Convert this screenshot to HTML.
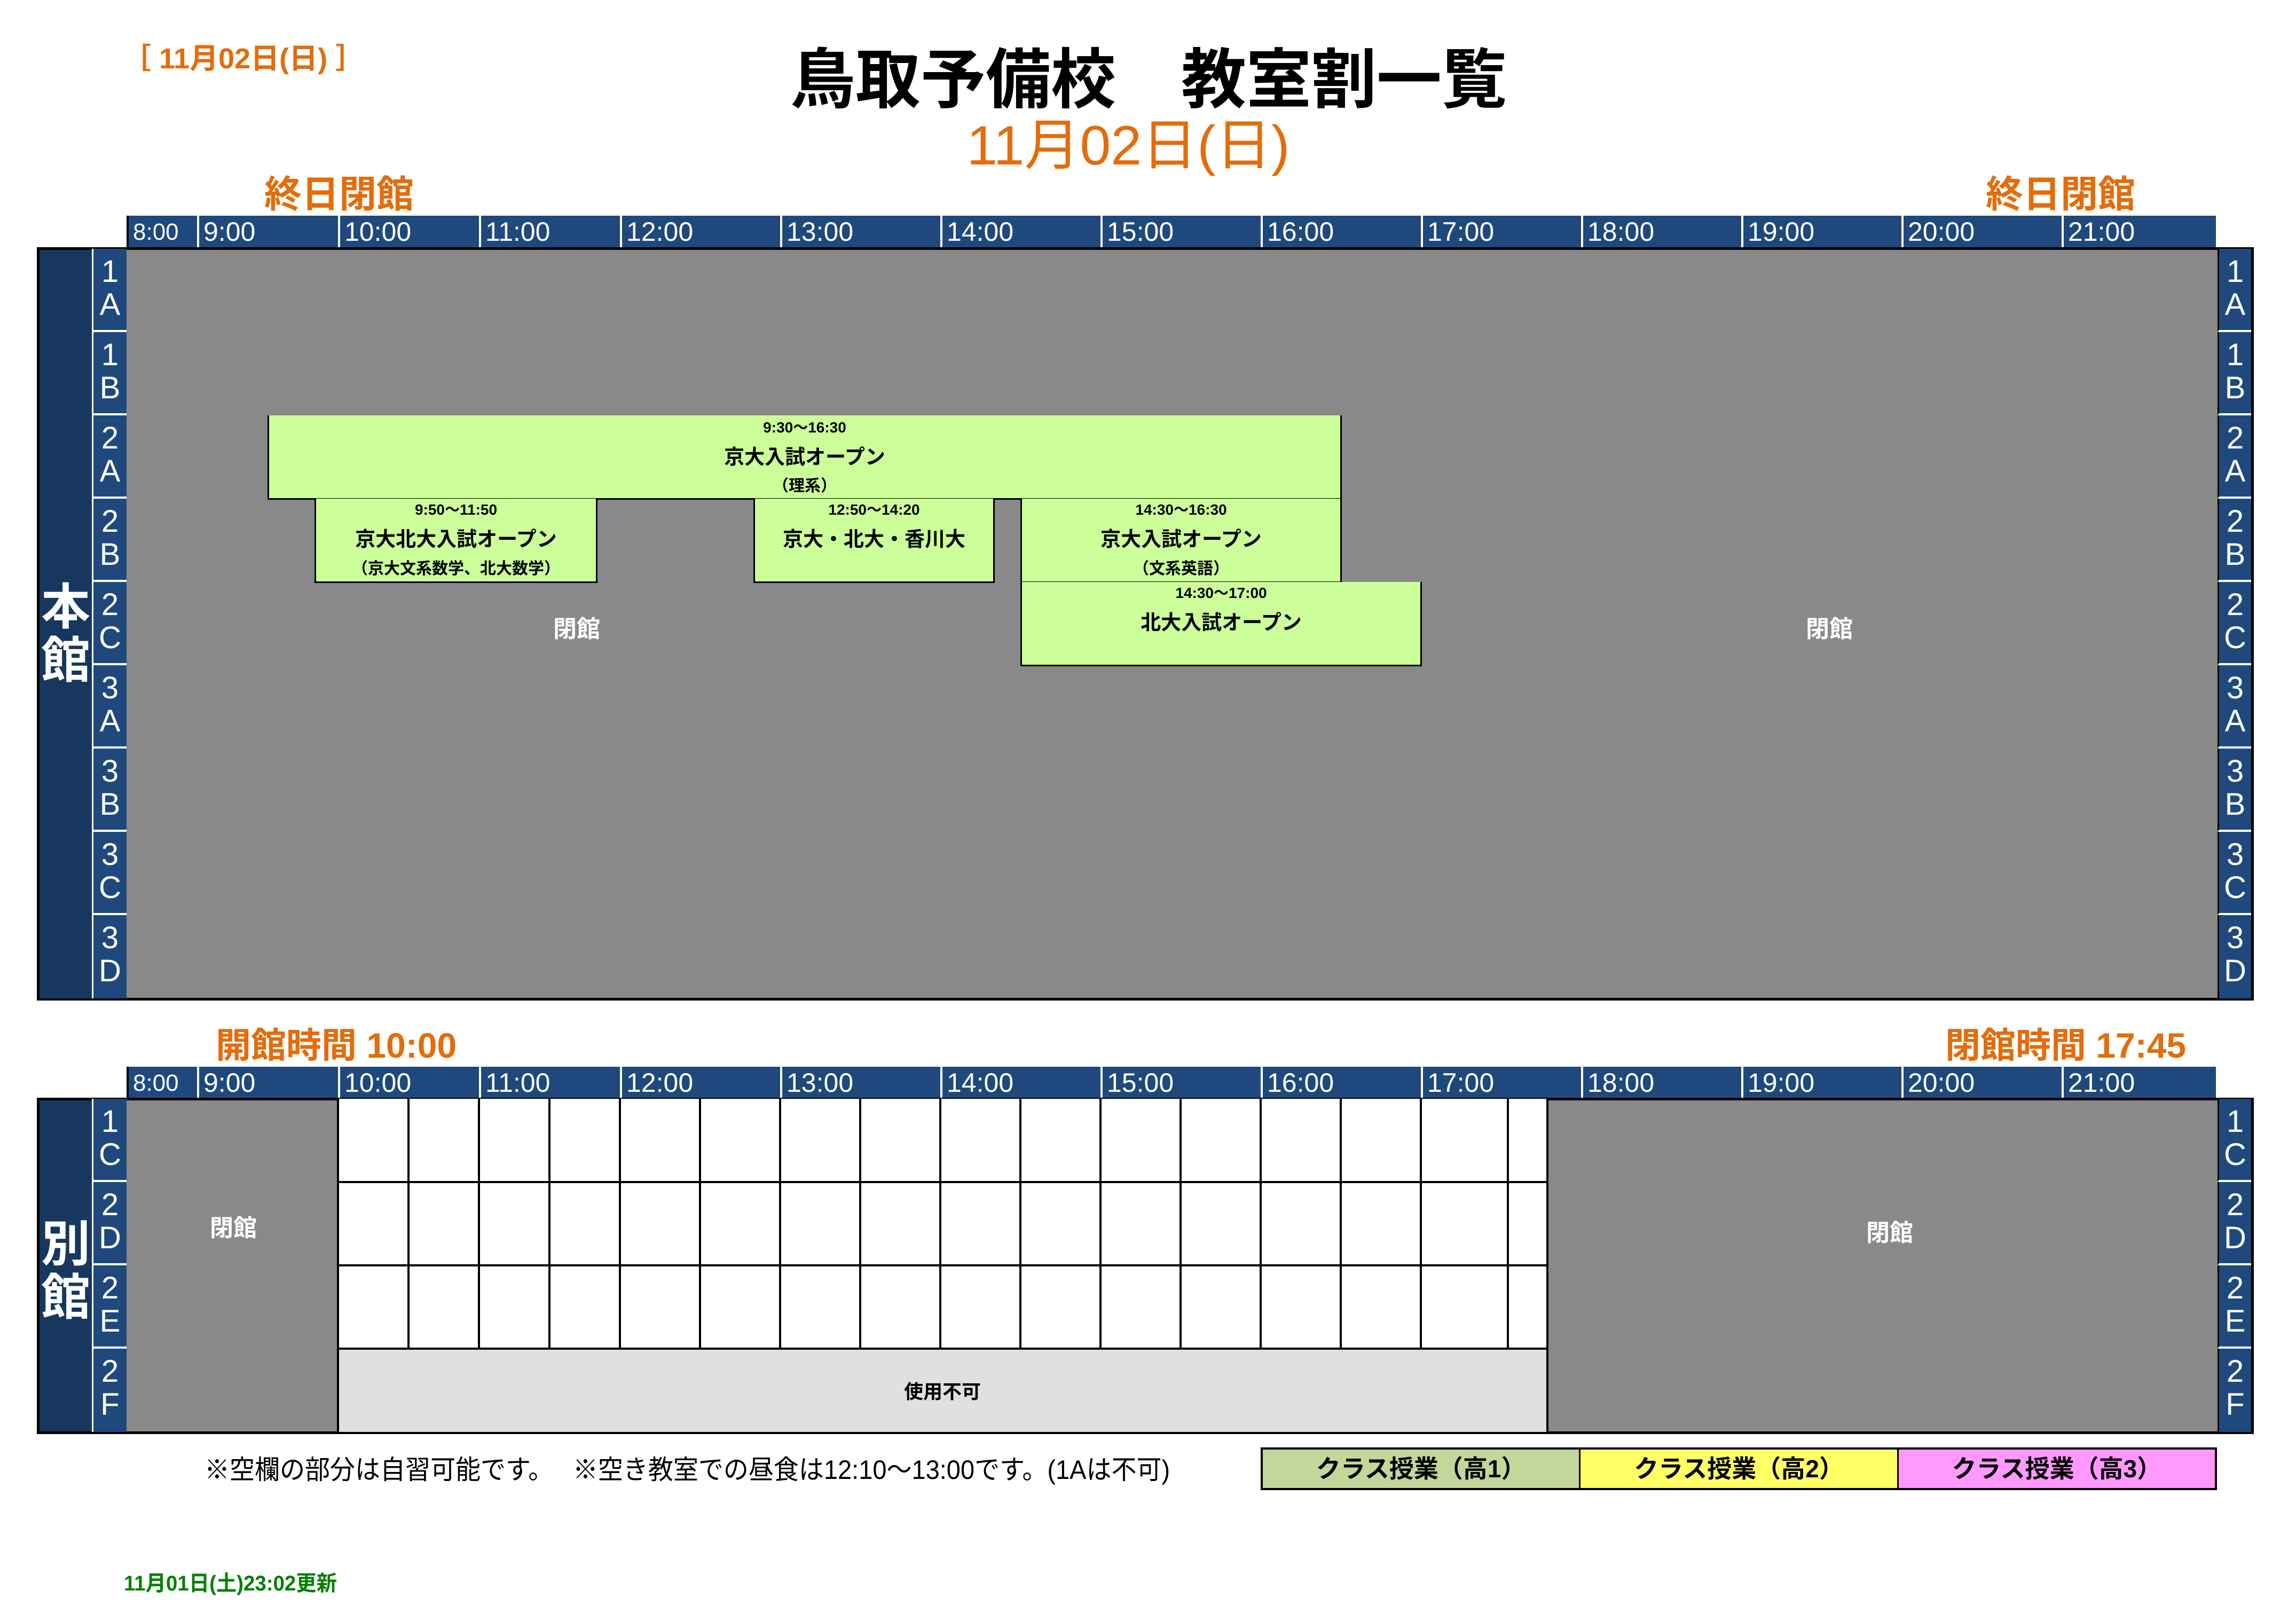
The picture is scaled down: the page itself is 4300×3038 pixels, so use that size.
<!DOCTYPE html>
<html><head><meta charset="utf-8">
<style>
*{margin:0;padding:0;box-sizing:border-box}
body{width:4300px;height:3038px;background:#fff;position:relative;overflow:hidden;font-family:"Liberation Sans","Noto Sans CJK JP",sans-serif}
.a{position:absolute}
.or{color:#e46c0a;font-weight:bold}
.hdr{position:absolute;background:#1f497d;height:61px}
.hc{position:absolute;top:0;height:61px;border-left:4px solid #fff;color:#fff;font-size:50px;line-height:61px;padding-left:8px;transform-origin:left}
.room{position:absolute;background:#1f497d;color:#fff;font-size:58px;line-height:62px;text-align:center;border-bottom:4px solid #fff;padding-top:12px}
.big{position:absolute;background:#17375e;color:#fff;font-weight:bold;font-size:92px;line-height:100px;text-align:center}
.ev{position:absolute;background:#ccff99;border:3px solid #000;text-align:center;font-weight:bold;color:#000}
.ev div{position:absolute;left:0;right:0}
.t{font-size:28px;line-height:30px}
.m{font-size:38px;line-height:42px}
.s{font-size:30px;line-height:32px}
.lbl{position:absolute;color:#fff;font-weight:bold;font-size:44px;transform:translate(-50%,-50%)}
</style></head><body>

<div class="a or" style="left:229px;top:78px;font-size:54px;line-height:64px;white-space:nowrap">［ 11月02日(日) ］</div>
<div class="a" style="left:2151px;top:85px;font-size:122px;line-height:130px;font-weight:bold;transform:translateX(-50%);white-space:nowrap">鳥取予備校　教室割一覧</div>
<div class="a" style="left:2113px;top:218px;font-size:104px;line-height:110px;color:#e46c0a;transform:translateX(-50%);white-space:nowrap">11月02日(日)</div>

<div class="a or" style="left:495px;top:325px;font-size:70px;line-height:78px">終日閉館</div>
<div class="a or" style="left:3719px;top:325px;font-size:70px;line-height:78px">終日閉館</div>

<div class="hdr" style="left:237px;top:404px;width:3913px">
<div class="hc" style="left:0;border-left:4px solid #000;font-size:44px">8:00</div>
<div class="hc" style="left:132px">9:00</div>
<div class="hc" style="left:396px">10:00</div>
<div class="hc" style="left:660px">11:00</div>
<div class="hc" style="left:924px">12:00</div>
<div class="hc" style="left:1224px">13:00</div>
<div class="hc" style="left:1524px">14:00</div>
<div class="hc" style="left:1824px">15:00</div>
<div class="hc" style="left:2124px">16:00</div>
<div class="hc" style="left:2424px">17:00</div>
<div class="hc" style="left:2724px">18:00</div>
<div class="hc" style="left:3024px">19:00</div>
<div class="hc" style="left:3324px">20:00</div>
<div class="hc" style="left:3624px">21:00</div>
</div>

<div class="a" style="left:69px;top:463px;width:4152px;height:1411px;border:5px solid #000;background:#898989"></div>
<div class="big" style="left:74px;top:468px;width:98px;height:1402px;padding-top:620px">本<br>館</div>
<div class="room" style="left:172px;top:466px;width:65px;height:156px;border-left:3px solid #fff">1<br>A</div>
<div class="room" style="left:172px;top:622px;width:65px;height:156px;border-left:3px solid #fff">1<br>B</div>
<div class="room" style="left:172px;top:778px;width:65px;height:156px;border-left:3px solid #fff">2<br>A</div>
<div class="room" style="left:172px;top:934px;width:65px;height:156px;border-left:3px solid #fff">2<br>B</div>
<div class="room" style="left:172px;top:1090px;width:65px;height:156px;border-left:3px solid #fff">2<br>C</div>
<div class="room" style="left:172px;top:1246px;width:65px;height:156px;border-left:3px solid #fff">3<br>A</div>
<div class="room" style="left:172px;top:1402px;width:65px;height:156px;border-left:3px solid #fff">3<br>B</div>
<div class="room" style="left:172px;top:1558px;width:65px;height:156px;border-left:3px solid #fff">3<br>C</div>
<div class="room" style="left:172px;top:1714px;width:65px;height:156px;border-left:3px solid #fff;border-bottom:none">3<br>D</div>

<div class="room" style="left:4153px;top:466px;width:63px;height:156px;border-left:3px solid #000">1<br>A</div>
<div class="room" style="left:4153px;top:622px;width:63px;height:156px;border-left:3px solid #000">1<br>B</div>
<div class="room" style="left:4153px;top:778px;width:63px;height:156px;border-left:3px solid #000">2<br>A</div>
<div class="room" style="left:4153px;top:934px;width:63px;height:156px;border-left:3px solid #000">2<br>B</div>
<div class="room" style="left:4153px;top:1090px;width:63px;height:156px;border-left:3px solid #000">2<br>C</div>
<div class="room" style="left:4153px;top:1246px;width:63px;height:156px;border-left:3px solid #000">3<br>A</div>
<div class="room" style="left:4153px;top:1402px;width:63px;height:156px;border-left:3px solid #000">3<br>B</div>
<div class="room" style="left:4153px;top:1558px;width:63px;height:156px;border-left:3px solid #000">3<br>C</div>
<div class="room" style="left:4153px;top:1714px;width:63px;height:156px;border-left:3px solid #000;border-bottom:none">3<br>D</div>

<div class="lbl" style="left:1080px;top:1174px">閉館</div>
<div class="lbl" style="left:3426px;top:1174px">閉館</div>

<div class="ev" style="left:501px;top:778px;width:2012px;height:158px;border-top:none">
<div class="t" style="top:8px">9:30～16:30</div>
<div class="m" style="top:58px">京大入試オープン</div>
<div class="s" style="top:117px">（理系）</div></div>
<div class="ev" style="left:589px;top:934px;width:530px;height:158px;border-top:none">
<div class="t" style="top:6px">9:50～11:50</div>
<div class="m" style="top:56px">京大北大入試オープン</div>
<div class="s" style="top:116px">（京大文系数学、北大数学）</div></div>
<div class="ev" style="left:1411px;top:934px;width:452px;height:158px;border-top:none">
<div class="t" style="top:6px">12:50～14:20</div>
<div class="m" style="top:56px">京大・北大・香川大</div></div>
<div class="ev" style="left:1911px;top:934px;width:602px;height:158px;border-top:none">
<div class="t" style="top:6px">14:30～16:30</div>
<div class="m" style="top:56px">京大入試オープン</div>
<div class="s" style="top:116px">（文系英語）</div></div>
<div class="ev" style="left:1911px;top:1090px;width:752px;height:158px;border-top:none">
<div class="t" style="top:6px">14:30～17:00</div>
<div class="m" style="top:56px">北大入試オープン</div></div>

<div class="a or" style="left:404px;top:1920px;font-size:66px;line-height:76px;white-space:nowrap">開館時間 10:00</div>
<div class="a or" style="left:3643px;top:1920px;font-size:66px;line-height:76px;white-space:nowrap">閉館時間 17:45</div>

<div class="hdr" style="left:237px;top:1998px;width:3913px">
<div class="hc" style="left:0;border-left:4px solid #000;font-size:44px">8:00</div>
<div class="hc" style="left:132px">9:00</div>
<div class="hc" style="left:396px">10:00</div>
<div class="hc" style="left:660px">11:00</div>
<div class="hc" style="left:924px">12:00</div>
<div class="hc" style="left:1224px">13:00</div>
<div class="hc" style="left:1524px">14:00</div>
<div class="hc" style="left:1824px">15:00</div>
<div class="hc" style="left:2124px">16:00</div>
<div class="hc" style="left:2424px">17:00</div>
<div class="hc" style="left:2724px">18:00</div>
<div class="hc" style="left:3024px">19:00</div>
<div class="hc" style="left:3324px">20:00</div>
<div class="hc" style="left:3624px">21:00</div>
</div>

<div class="a" style="left:69px;top:2056px;width:4152px;height:630px;border:5px solid #000;background:#898989"></div>
<div class="big" style="left:74px;top:2061px;width:98px;height:620px;padding-top:220px">別<br>館</div>
<div class="room" style="left:172px;top:2058px;width:65px;height:156px;border-left:3px solid #fff">1<br>C</div>
<div class="room" style="left:172px;top:2214px;width:65px;height:156px;border-left:3px solid #fff">2<br>D</div>
<div class="room" style="left:172px;top:2370px;width:65px;height:156px;border-left:3px solid #fff">2<br>E</div>
<div class="room" style="left:172px;top:2526px;width:65px;height:156px;border-left:3px solid #fff;border-bottom:none">2<br>F</div>
<div class="room" style="left:4153px;top:2058px;width:63px;height:156px;border-left:3px solid #000">1<br>C</div>
<div class="room" style="left:4153px;top:2214px;width:63px;height:156px;border-left:3px solid #000">2<br>D</div>
<div class="room" style="left:4153px;top:2370px;width:63px;height:156px;border-left:3px solid #000">2<br>E</div>
<div class="room" style="left:4153px;top:2526px;width:63px;height:156px;border-left:3px solid #000;border-bottom:none">2<br>F</div>

<svg class="a" style="left:0;top:0" width="4300" height="3038">
<rect x="633" y="2058" width="2265" height="468" fill="#fff"/>
<rect x="633" y="2526" width="2265" height="156" fill="#e0e0e0"/>
<g stroke="#000" stroke-width="4">
<line x1="633" y1="2058" x2="633" y2="2684"/>
<line x1="2898" y1="2058" x2="2898" y2="2684"/>
<line x1="633" y1="2214" x2="2898" y2="2214"/>
<line x1="633" y1="2370" x2="2898" y2="2370"/>
<line x1="633" y1="2526" x2="2898" y2="2526"/>
<line x1="765" y1="2058" x2="765" y2="2526"/>
<line x1="897" y1="2058" x2="897" y2="2526"/>
<line x1="1029" y1="2058" x2="1029" y2="2526"/>
<line x1="1161" y1="2058" x2="1161" y2="2526"/>
<line x1="1311" y1="2058" x2="1311" y2="2526"/>
<line x1="1461" y1="2058" x2="1461" y2="2526"/>
<line x1="1611" y1="2058" x2="1611" y2="2526"/>
<line x1="1761" y1="2058" x2="1761" y2="2526"/>
<line x1="1911" y1="2058" x2="1911" y2="2526"/>
<line x1="2061" y1="2058" x2="2061" y2="2526"/>
<line x1="2211" y1="2058" x2="2211" y2="2526"/>
<line x1="2361" y1="2058" x2="2361" y2="2526"/>
<line x1="2511" y1="2058" x2="2511" y2="2526"/>
<line x1="2661" y1="2058" x2="2661" y2="2526"/>
<line x1="2824" y1="2058" x2="2824" y2="2526"/>
</g>
</svg>
<div class="lbl" style="left:437px;top:2296px">閉館</div>
<div class="lbl" style="left:3539px;top:2305px">閉館</div>
<div class="a" style="left:1765px;top:2604px;transform:translate(-50%,-50%);font-size:36px;font-weight:bold">使用不可</div>

<div class="a" style="left:383px;top:2724px;font-size:50px;line-height:58px;white-space:nowrap;transform:scaleX(0.94);transform-origin:left">※空欄の部分は自習可能です。　 ※空き教室での昼食は12:10～13:00です。(1Aは不可)</div>

<div class="a" style="left:2361px;top:2711px;width:1791px;height:80px;border:4px solid #000;display:flex">
<div style="flex:1;background:#c4d79b;border-right:3px solid #000;text-align:center;font-size:46px;line-height:72px;font-weight:bold">クラス授業（高1）</div>
<div style="flex:1;background:#ffff66;border-right:3px solid #000;text-align:center;font-size:46px;line-height:72px;font-weight:bold">クラス授業（高2）</div>
<div style="flex:1;background:#ff99ff;text-align:center;font-size:46px;line-height:72px;font-weight:bold">クラス授業（高3）</div>
</div>

<div class="a" style="left:232px;top:2944px;font-size:40px;line-height:44px;color:#008000;font-weight:bold;white-space:nowrap;transform:scaleX(0.96);transform-origin:left">11月01日(土)23:02更新</div>
</body></html>
